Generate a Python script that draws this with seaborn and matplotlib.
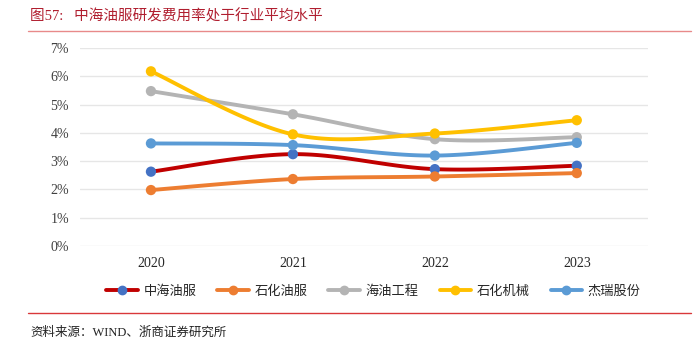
import numpy as np
import pandas as pd
import matplotlib
matplotlib.use("Agg")
import matplotlib.pyplot as plt
import seaborn as sns
from matplotlib.lines import Line2D

# data (research expense ratio, %)
years = ["2020", "2021", "2022", "2023"]
companies = ["中海油服", "石化油服", "海油工程", "石化机械", "杰瑞股份"]
cosl = [2.63, 3.25, 2.72, 2.84]
sinopec_os = [1.98, 2.37, 2.46, 2.58]
cooec = [5.48, 4.66, 3.78, 3.85]
sinopec_mach = [6.18, 3.95, 3.98, 4.45]
jereh = [3.63, 3.57, 3.20, 3.65]
line_colors = ["#C00000", "#ED7D31", "#B4B4B4", "#FFC000", "#5B9BD5"]
marker_colors = ["#4472C4", "#ED7D31", "#B4B4B4", "#FFC000", "#5B9BD5"]

sns.set_style("white")
plt.rcParams['font.family'] = ['Liberation Serif', 'Noto Sans CJK SC']

rows = []
for name, vals in zip(companies, [cosl, sinopec_os, cooec, sinopec_mach, jereh]):
    for i, v in enumerate(vals):
        rows.append({"company": name, "x": i, "value": v})
df = pd.DataFrame(rows)


def smooth(xs, ys, n=40):
    # excel-like smoothed line (catmull-rom)
    xs = np.asarray(xs, float)
    ys = np.asarray(ys, float)
    px = np.concatenate([[xs[0]], xs, [xs[-1]]])
    py = np.concatenate([[ys[0]], ys, [ys[-1]]])
    ox, oy = [], []
    for i in range(1, len(px) - 2):
        t = np.linspace(0, 1, n)
        for p, out in ((px, ox), (py, oy)):
            p0, p1, p2, p3 = p[i - 1], p[i], p[i + 1], p[i + 2]
            c1 = p1 + (p2 - p0) / 6
            c2 = p2 - (p3 - p1) / 6
            out.extend((1 - t) ** 3 * p1 + 3 * (1 - t) ** 2 * t * c1
                       + 3 * (1 - t) * t ** 2 * c2 + t ** 3 * p2)
    return np.array(ox), np.array(oy)


fig = plt.figure(figsize=(6.98, 3.54), dpi=100)
ax = fig.add_axes([0.1146, 0.305, 0.8134, 0.559])

for name, lc, mc in zip(companies, line_colors, marker_colors):
    sub = df[df.company == name]
    sx, sy = smooth(sub.x, sub.value)
    sns.lineplot(x=sx, y=sy, ax=ax, color=lc, lw=2.8, sort=False, zorder=2)
    sns.scatterplot(x=sub.x, y=sub.value, ax=ax, color=mc, s=55,
                    edgecolor="none", zorder=3)

ax.set_xlim(-0.5, 3.5)
ax.set_ylim(0, 7)
ax.set_xticks(range(len(years)))
ax.set_xticklabels(years, fontsize=10)
ax.set_yticks(range(0, 8))
ax.set_yticklabels([f"{i}%" for i in range(0, 8)], fontsize=10, color="#404040")
ax.grid(axis="y", color="#E6E6E6", lw=1)
ax.set_axisbelow(True)
for s in ax.spines.values():
    s.set_visible(False)
ax.tick_params(axis="both", length=0, pad=8)
ax.set_xlabel("")
ax.set_ylabel("")

handles = [Line2D([0], [0], color=lc, lw=2.8, marker="o", markersize=6,
                  markerfacecolor=mc, markeredgecolor=mc)
           for lc, mc in zip(line_colors, marker_colors)]
fig.legend(handles, companies, loc="center", bbox_to_anchor=(0.535, 0.177),
           ncol=5, frameon=False, handlelength=2.4,
           columnspacing=1.6, handletextpad=0.4,
           prop={"family": ["Noto Sans CJK SC"], "size": 9.5})

fig.text(0.043, 0.955, "图57:   中海油服研发费用率处于行业平均水平", color="#B01E2F",
         fontsize=10.5, va="center")
fig.add_artist(Line2D([0.04, 0.99], [0.912, 0.912], color="#E88A8A", lw=1))
fig.add_artist(Line2D([0.04, 0.99], [0.116, 0.116], color="#D9383A", lw=1))
fig.text(0.043, 0.06, "资料来源：WIND、浙商证券研究所", color="#222222",
         fontsize=9, va="center")

fig.savefig("out.png", dpi=100)
